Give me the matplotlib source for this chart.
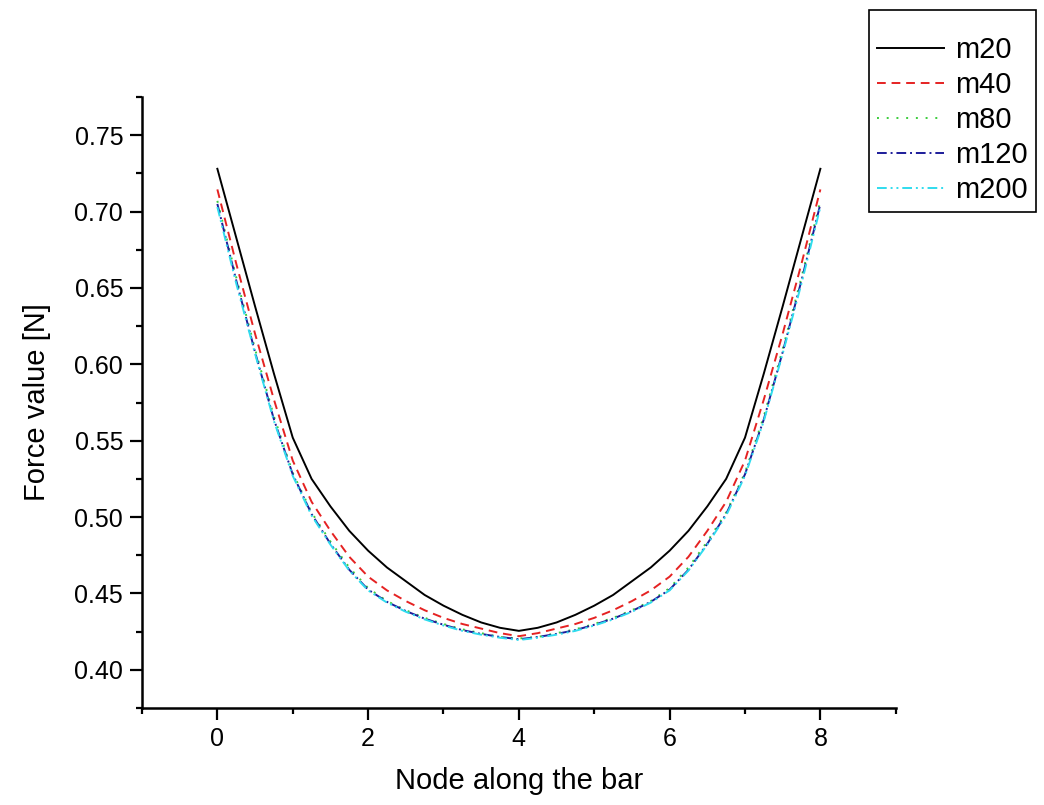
import numpy as np
import matplotlib
matplotlib.use('Agg')
import matplotlib.pyplot as plt
from matplotlib.ticker import FixedLocator, MultipleLocator, FormatStrFormatter

plt.rcParams['font.family'] = ['Liberation Sans', 'DejaVu Sans']

# node positions along the bar (read every 0.25)
nodes = [0.0, 0.25, 0.5, 0.75, 1.0, 1.25, 1.5, 1.75, 2.0, 2.25, 2.5, 2.75, 3.0, 3.25, 3.5, 3.75, 4.0,
         4.25, 4.5, 4.75, 5.0, 5.25, 5.5, 5.75, 6.0, 6.25, 6.5, 6.75, 7.0, 7.25, 7.5, 7.75, 8.0]

m20 = [0.728, 0.683, 0.638, 0.594, 0.552, 0.525, 0.507, 0.491, 0.478, 0.467, 0.458, 0.449, 0.442,
       0.436, 0.431, 0.4275, 0.4255, 0.4275, 0.431, 0.436, 0.442, 0.449, 0.458, 0.467, 0.478,
       0.491, 0.507, 0.525, 0.552, 0.594, 0.638, 0.683, 0.728]
m40 = [0.7145, 0.666, 0.620, 0.577, 0.537, 0.510, 0.491, 0.474, 0.461, 0.452, 0.445, 0.439, 0.434,
       0.430, 0.427, 0.424, 0.422, 0.424, 0.427, 0.430, 0.434, 0.439, 0.445, 0.452, 0.461,
       0.474, 0.491, 0.510, 0.537, 0.577, 0.620, 0.666, 0.7145]
m80 = [0.707, 0.657, 0.610, 0.566, 0.529, 0.503, 0.484, 0.467, 0.4535, 0.445, 0.439, 0.434, 0.430,
       0.4265, 0.424, 0.4215, 0.4205, 0.4215, 0.424, 0.4265, 0.430, 0.434, 0.439, 0.445, 0.4535,
       0.467, 0.484, 0.503, 0.529, 0.566, 0.610, 0.657, 0.707]
m120 = [0.705, 0.655, 0.608, 0.564, 0.528, 0.502, 0.4825, 0.4655, 0.4525, 0.4445, 0.4385, 0.4335, 0.4295,
        0.426, 0.4235, 0.4215, 0.42, 0.4215, 0.4235, 0.426, 0.4295, 0.4335, 0.4385, 0.4445, 0.4525,
        0.4655, 0.4825, 0.502, 0.528, 0.564, 0.608, 0.655, 0.705]
m200 = [0.703, 0.653, 0.607, 0.563, 0.527, 0.501, 0.482, 0.465, 0.452, 0.444, 0.438, 0.433, 0.429,
        0.4255, 0.423, 0.421, 0.4195, 0.421, 0.423, 0.4255, 0.429, 0.433, 0.438, 0.444, 0.452,
        0.465, 0.482, 0.501, 0.527, 0.563, 0.607, 0.653, 0.703]

labels = ['m20', 'm40', 'm80', 'm120', 'm200']
series = [m20, m40, m80, m120, m200]
colors = ['black', '#e52222', '#3ccc3c', '#1c1c9a', '#2fdcee']
dashes = [(), (4.5, 3), (1, 4), (5, 2, 1, 2), (5, 2, 1, 2, 1, 2)]

x_major = [0, 2, 4, 6, 8]
y_major = [0.40, 0.45, 0.50, 0.55, 0.60, 0.65, 0.70, 0.75]

fig = plt.figure(figsize=(10.44, 8.05), dpi=100)
ax = fig.add_axes([0.136, 0.1205, 0.722, 0.759])

for y, lab, c, d in zip(series, labels, colors, dashes):
    line, = ax.plot(nodes, y, color=c, lw=1.4, label=lab)
    if d:
        line.set_dashes(d)

ax.set_xlim(-1, 9)
ax.set_ylim(0.375, 0.775)
ax.xaxis.set_major_locator(FixedLocator(x_major))
ax.xaxis.set_minor_locator(MultipleLocator(1))
ax.yaxis.set_major_locator(FixedLocator(y_major))
ax.yaxis.set_minor_locator(MultipleLocator(0.025))
ax.yaxis.set_major_formatter(FormatStrFormatter('%.2f'))

for s in ['top', 'right']:
    ax.spines[s].set_visible(False)
for s in ['left', 'bottom']:
    ax.spines[s].set_linewidth(1.8)
ax.tick_params(which='major', direction='out', length=8.5, width=1.6, labelsize=18, pad=5)
ax.tick_params(which='minor', direction='out', length=4.5, width=1.6)

ax.set_xlabel('Node along the bar', fontsize=21, labelpad=12)
ax.set_ylabel('Force value [N]', fontsize=21, labelpad=17)

# blank small title gives the extra space above the first row
leg = fig.legend(loc='upper right', bbox_to_anchor=(1036 / 1044, 1 - 10 / 805), fontsize=21,
                 title=' ', title_fontsize=7,
                 handlelength=2.3, handletextpad=0.35, labelspacing=0.24,
                 borderpad=0.3, borderaxespad=0, fancybox=False, framealpha=1)
leg.get_frame().set_edgecolor('black')
leg.get_frame().set_linewidth(1.2)

plt.savefig('out.png', dpi=100)
